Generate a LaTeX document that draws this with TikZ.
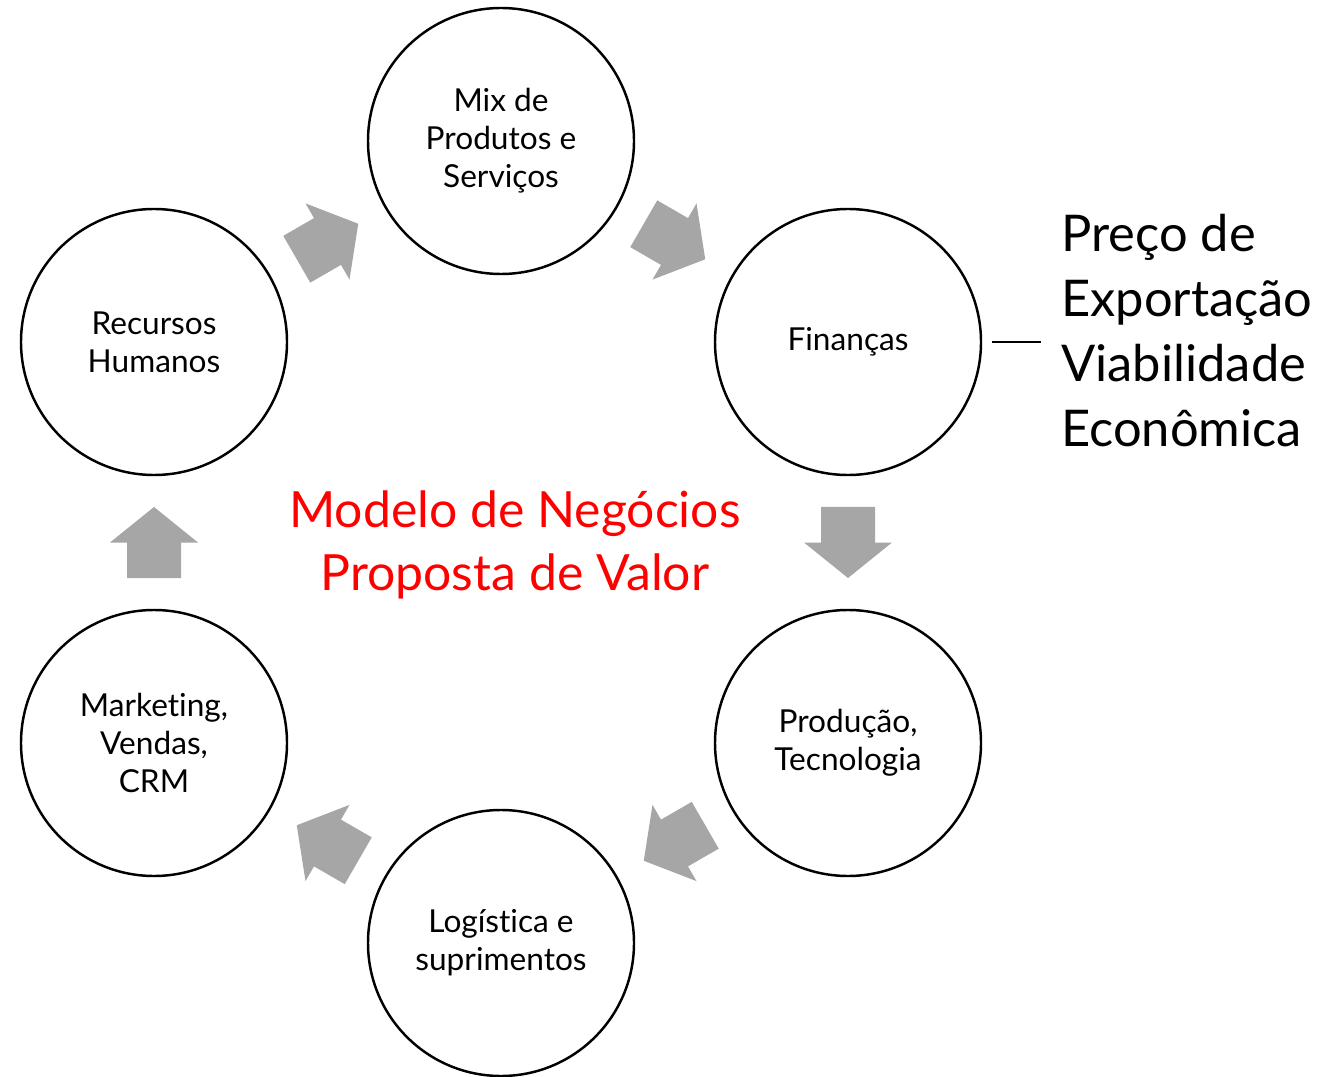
\documentclass[tikz,border=0pt]{standalone}
\usepackage{fontspec}
\setmainfont{Lato}[Ligatures=NoCommon]
\usetikzlibrary{calc}
\definecolor{arrowgray}{HTML}{A6A6A6}
\tikzset{
  area/.style={circle, draw=black, line width=1.4pt, minimum size=5.32cm,
    align=center, font=\fontsize{18}{21.6}\selectfont, inner sep=0pt},
  blockarrow/.style={fill=arrowgray},
}

\begin{document}
\begin{tikzpicture}
      \useasboundingbox (0,0) rectangle (26.64,21.52);
      \node[area] (mix)  at (10.02,18.70) {Mix de\\Produtos e\\Serviços};
      \node[area] (fin)  at (16.96,14.68) {Finanças};
      \node[area] (prod) at (16.96,6.66)  {Produção,\\Tecnologia};
      \node[area] (log)  at (10.02,2.66)  {Logística e\\suprimentos};
      \node[area] (mkt)  at (3.08,6.66)   {Market\kern0pt ing,\\Vendas,\\CRM};
      \node[area] (rh)   at (3.08,14.68)  {Recursos\\Humanos};
      % arrows between the areas
      \foreach \a/\b/\r in {mix/fin/-30, fin/prod/-90, prod/log/-150,
                            log/mkt/150, mkt/rh/90, rh/mix/30}
        \fill[blockarrow, shift={($(\a)!0.5!(\b)$)}, rotate=\r]
          (-0.71,0.54) -- (0,0.54) -- (0,0.88) -- (0.71,0)
          -- (0,-0.88) -- (0,-0.54) -- (-0.71,-0.54) -- cycle;
      \node[text=red, align=center, font=\fontsize{28.4}{36}\selectfont]
        (modelo) at (10.30,10.62) {Modelo de Negócios\\Proposta de Valor};
      \node[anchor=west, align=left, inner sep=0pt,
        font=\fontsize{28.8}{37}\selectfont] (preco) at (21.22,14.90)
        {Preço de\\Exportação\\Viabilidade\\Econômica};
      \draw[line width=0.6pt] ([xshift=2mm]fin.east)
        -- ([xshift=-4mm]fin.east -| preco.west);
\end{tikzpicture}
\end{document}
